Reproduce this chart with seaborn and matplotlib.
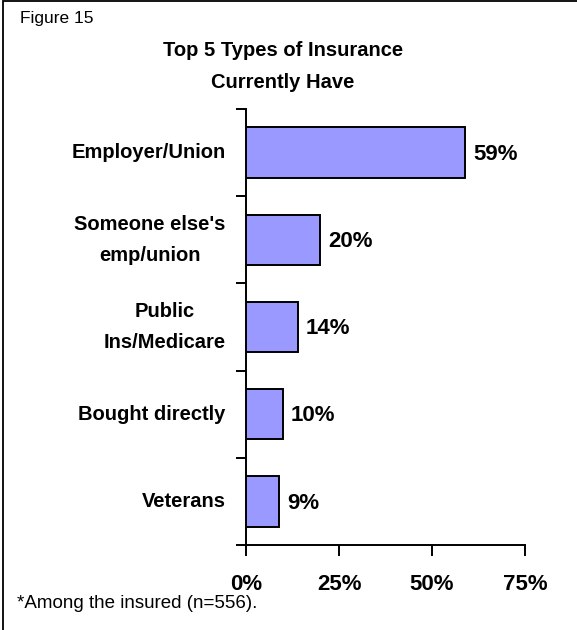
import matplotlib
matplotlib.use("Agg")
import matplotlib.pyplot as plt
import seaborn as sns
import pandas as pd
from matplotlib.patches import Rectangle
from matplotlib.ticker import FixedLocator

# Insurance types and share of insured respondents (%)
categories = ["Employer/Union", "Someone else's\nemp/union", "Public\nIns/Medicare",
              "Bought directly", "Veterans"]
shares = [59, 20, 14, 10, 9]
x_ticks = [0, 25, 50, 75]
x_tick_labels = ["0%", "25%", "50%", "75%"]

df = pd.DataFrame({"type": categories, "share": shares})

sns.set_theme(style="white")
plt.rcParams["font.family"] = ["Liberation Sans", "DejaVu Sans"]
plt.rcParams["text.color"] = "black"
plt.rcParams["xtick.color"] = "black"
plt.rcParams["ytick.color"] = "black"
plt.rcParams["axes.labelcolor"] = "black"

W, H = 577, 630
fig = plt.figure(figsize=(W / 100, H / 100), dpi=100)
fig.patch.set_facecolor("white")

ax = fig.add_axes([246 / W, 1 - 545 / H, (525 - 246) / W, (545 - 109) / H])
sns.barplot(data=df, y="type", x="share", orient="h", order=categories,
            color="#9999FF", saturation=1, width=0.58,
            edgecolor="black", linewidth=1.4, ax=ax)

ax.set_xlim(0, 75)
ax.set_ylim(4.5, -0.5)
ax.set_xlabel("")
ax.set_ylabel("")
ax.set_facecolor("white")

for side in ["top", "right"]:
    ax.spines[side].set_visible(False)
for side in ["left", "bottom"]:
    ax.spines[side].set_color("black")
    ax.spines[side].set_linewidth(1.4)

ax.set_xticks(x_ticks)
ax.set_xticklabels(x_tick_labels, fontsize=16, fontweight="bold", color="black")
ax.tick_params(axis="x", direction="out", length=8, width=1.4, color="black",
               pad=13, bottom=True)

# category labels without ticks; ticks sit on category boundaries
ax.tick_params(axis="y", which="major", length=0, pad=14.5)
ax.yaxis.set_minor_locator(FixedLocator([i - 0.5 for i in range(len(categories) + 1)]))
ax.tick_params(axis="y", which="minor", direction="out", length=7, width=1.4,
               color="black", left=True)
for t in ax.get_yticklabels():
    t.set_fontsize(14.5)
    t.set_fontweight("bold")
    t.set_color("black")
    t.set_multialignment("center")
    t.set_linespacing(1.8)
    t.set_verticalalignment("center")

for i, v in enumerate(shares):
    ax.text(v + 2.1, i + 0.02, f"{v}%", va="center", ha="left",
            fontsize=16, fontweight="bold", color="black")

fig.text(20 / W, 1 - 19 / H, "Figure 15", fontsize=12.5, ha="left", va="center",
         color="black")
fig.text(283 / W, 1 - 51 / H, "Top 5 Types of Insurance", fontsize=14.5,
         fontweight="bold", ha="center", va="center", color="black")
fig.text(283 / W, 1 - 83 / H, "Currently Have", fontsize=14.5,
         fontweight="bold", ha="center", va="center", color="black")
fig.text(17 / W, 1 - 603 / H, "*Among the insured (n=556).", fontsize=13.5,
         ha="left", va="center", color="black")

# frame around the figure
fig.patches.append(Rectangle((2.5 / W, -0.1), 1.2, 1.1 - 1.5 / H,
                             transform=fig.transFigure, fill=False,
                             edgecolor="black", linewidth=1.3))

fig.savefig("out.png", dpi=100, facecolor="white")
